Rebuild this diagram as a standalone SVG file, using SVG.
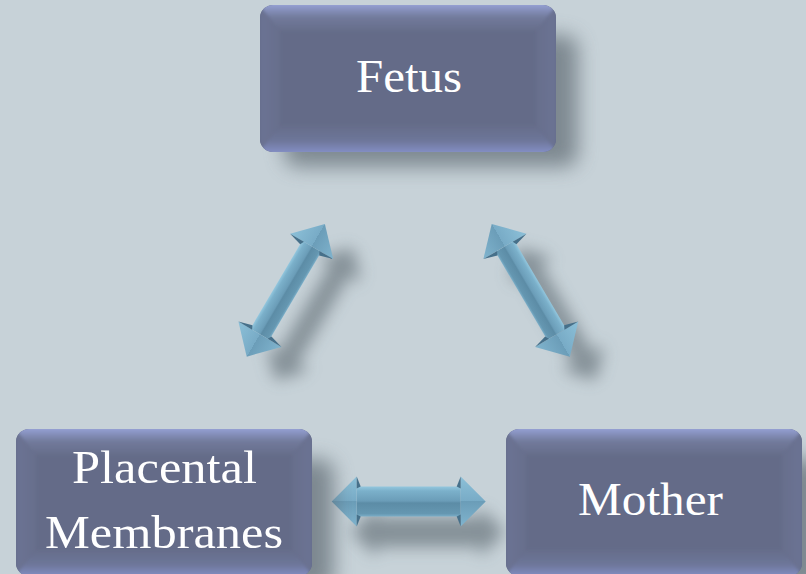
<svg xmlns="http://www.w3.org/2000/svg" xmlns:xlink="http://www.w3.org/1999/xlink" width="806" height="574" viewBox="0 0 806 574">
  <defs>
    <style>
      .lbl { font-family: "Liberation Serif", "Times New Roman", serif; font-size: 46px; fill: #ffffff; text-anchor: middle; }
      .shadow { fill: #4f5b63; opacity: 0.55; }
    </style>
    <filter id="boxShadow" x="-30%" y="-30%" width="160%" height="160%">
      <feGaussianBlur stdDeviation="10"/>
    </filter>
    <filter id="arrShadow" x="-50%" y="-100%" width="200%" height="300%">
      <feGaussianBlur stdDeviation="8"/>
    </filter>
    <filter id="soft" x="-10%" y="-10%" width="120%" height="120%">
      <feGaussianBlur stdDeviation="1.5"/>
    </filter>
    <clipPath id="boxClip">
      <rect x="0" y="0" width="296" height="147" rx="13"/>
    </clipPath>
    <linearGradient id="topBevel" x1="0" y1="0" x2="0" y2="1">
      <stop offset="0" stop-color="#abb7ee"/>
      <stop offset="0.15" stop-color="#919cce"/>
      <stop offset="0.55" stop-color="#717a9b"/>
      <stop offset="1" stop-color="#666d8a"/>
    </linearGradient>
    <linearGradient id="botBevel" x1="0" y1="0" x2="0" y2="1">
      <stop offset="0" stop-color="#656c89"/>
      <stop offset="0.5" stop-color="#6d7699"/>
      <stop offset="0.85" stop-color="#808bbf"/>
      <stop offset="1" stop-color="#909cd4"/>
    </linearGradient>
    <linearGradient id="leftBevel" x1="0" y1="0" x2="1" y2="0">
      <stop offset="0" stop-color="#5e6583"/>
      <stop offset="0.25" stop-color="#6b7393"/>
      <stop offset="1" stop-color="#676e8c"/>
    </linearGradient>
    <linearGradient id="rightBevel" x1="0" y1="0" x2="1" y2="0">
      <stop offset="0" stop-color="#676e8c"/>
      <stop offset="0.75" stop-color="#6b7393"/>
      <stop offset="1" stop-color="#5e6583"/>
    </linearGradient>
    <g id="box">
      <rect x="24" y="30" width="294" height="132" rx="14" fill="#56626a" opacity="0.65" filter="url(#boxShadow)"/>
      <g clip-path="url(#boxClip)">
        <rect x="0" y="0" width="296" height="147" fill="#646b88"/>
        <g filter="url(#soft)">
          <polygon points="-4,-4 300,-4 276,26 20,26" fill="url(#topBevel)"/>
          <polygon points="-4,151 300,151 276,120 20,120" fill="url(#botBevel)"/>
          <polygon points="-4,-4 20,26 20,120 -4,151" fill="url(#leftBevel)"/>
          <polygon points="300,-4 276,26 276,120 300,151" fill="url(#rightBevel)"/>
        </g>
      </g>
    </g>
    <linearGradient id="shaftGrad" x1="0" y1="0" x2="0" y2="1">
      <stop offset="0" stop-color="#93c7de"/>
      <stop offset="0.15" stop-color="#7bb0ca"/>
      <stop offset="0.48" stop-color="#6b9db8"/>
      <stop offset="0.55" stop-color="#5c8ca6"/>
      <stop offset="0.9" stop-color="#6597b1"/>
      <stop offset="1" stop-color="#7aaec8"/>
    </linearGradient>
    <linearGradient id="headGrad" x1="0" y1="0" x2="0" y2="1">
      <stop offset="0" stop-color="#8cc0d8"/>
      <stop offset="0.5" stop-color="#78abc6"/>
      <stop offset="0.5" stop-color="#6b9db8"/>
      <stop offset="1" stop-color="#80b4ce"/>
    </linearGradient>
    <path id="arrowShapeH" d="M -77 0 L -52 -25 L -52 -15 L 52 -15 L 52 -25 L 77 0 L 52 25 L 52 15 L -52 15 L -52 25 Z"/>
    <path id="arrowShapeD" d="M -77 0 L -51 -25 L -51 -11 L 51 -11 L 51 -25 L 77 0 L 51 25 L 51 11 L -51 11 L -51 25 Z"/>
    <g id="arrowH">
      <rect x="-52" y="-15" width="104" height="30" fill="url(#shaftGrad)"/>
      <polygon points="-77,0 -52,-25 -52,25" fill="url(#headGrad)"/>
      <polygon points="77,0 52,-25 52,25" fill="url(#headGrad)"/>
      <polygon points="-52,-25 -48,-15 -52,-13" fill="#46708a"/>
      <polygon points="-52,25 -48,15 -52,13" fill="#46708a"/>
      <polygon points="52,-25 48,-15 52,-13" fill="#46708a"/>
      <polygon points="52,25 48,15 52,13" fill="#46708a"/>
    </g>
    <g id="arrowD">
      <rect x="-51" y="-11" width="102" height="22" fill="url(#shaftGrad)"/>
      <polygon points="-77,0 -51,-25 -51,25" fill="url(#headGrad)"/>
      <polygon points="77,0 51,-25 51,25" fill="url(#headGrad)"/>
      <polygon points="-51,-25 -47,-11 -51,-9" fill="#46708a"/>
      <polygon points="-51,25 -47,11 -51,9" fill="#46708a"/>
      <polygon points="51,-25 47,-11 51,-9" fill="#46708a"/>
      <polygon points="51,25 47,11 51,9" fill="#46708a"/>
    </g>
  </defs>

  <rect x="0" y="0" width="806" height="574" fill="#c7d2d8"/>

  <g id="connectors">
    <g id="arrow-fetus-placental">
      <use xlink:href="#arrowShapeD" href="#arrowShapeD" class="shadow" transform="translate(314,314) rotate(-59.5)" filter="url(#arrShadow)"/>
      <use xlink:href="#arrowD" href="#arrowD" transform="translate(285.8,290.3) rotate(-59.5)"/>
    </g>
    <g id="arrow-fetus-mother">
      <use xlink:href="#arrowShapeD" href="#arrowShapeD" class="shadow" transform="translate(557,314) rotate(59.5)" filter="url(#arrShadow)"/>
      <use xlink:href="#arrowD" href="#arrowD" transform="translate(530.8,290.3) rotate(59.5)"/>
    </g>
    <g id="arrow-placental-mother">
      <use xlink:href="#arrowShapeH" href="#arrowShapeH" class="shadow" transform="translate(428,532)" filter="url(#arrShadow)"/>
      <use xlink:href="#arrowH" href="#arrowH" transform="translate(408.7,501.5)"/>
    </g>
  </g>

  <g id="node-fetus">
    <use xlink:href="#box" href="#box" x="260" y="5"/>
    <text class="lbl" x="409" y="92" textLength="106" lengthAdjust="spacingAndGlyphs">Fetus</text>
  </g>
  <g id="node-placental">
    <use xlink:href="#box" href="#box" x="16" y="429"/>
    <text class="lbl" x="164.5" y="483" textLength="185" lengthAdjust="spacingAndGlyphs">Placental</text>
    <text class="lbl" x="164" y="548" textLength="238" lengthAdjust="spacingAndGlyphs">Membranes</text>
  </g>
  <g id="node-mother">
    <use xlink:href="#box" href="#box" x="506" y="429"/>
    <text class="lbl" x="650.5" y="515" textLength="145" lengthAdjust="spacingAndGlyphs">Mother</text>
  </g>
</svg>
